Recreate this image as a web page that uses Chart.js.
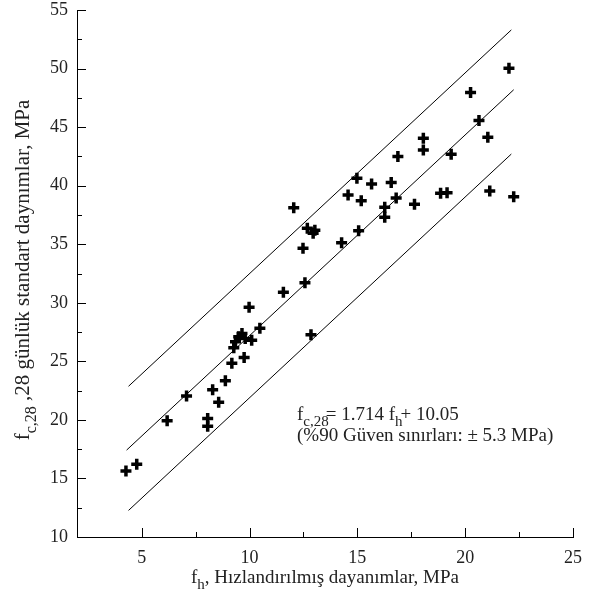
<!DOCTYPE html>
<html>
<head>
<meta charset="utf-8">
<script src="https://cdn.jsdelivr.net/npm/chart.js@4/dist/chart.umd.min.js"></script>
<style>
  body { margin: 0; background: #fff; }
</style>
</head>
<body>
<canvas id="cnv" width="592" height="598"></canvas>
<script>
// measured points: accelerated strength fh vs 28-day standard strength fc28 (MPa)
const fh = [4.27, 4.77, 6.18, 7.08, 8.06, 8.06, 8.29, 8.57, 8.88, 9.18,
  9.27, 9.35, 9.5, 9.65, 9.8, 9.75, 9.98, 10.1, 10.48, 11.57,
  12.05, 12.48, 12.57, 12.68, 13.03, 12.95, 12.85, 14.27, 14.57, 14.98,
  15.06, 15.18, 15.66, 16.27, 16.27, 16.57, 16.8, 16.88, 17.65, 18.06,
  18.06, 18.86, 19.16, 19.35, 20.25, 20.64, 21.05, 21.14, 22.03, 22.25]
const fc28 = [15.64, 16.21, 19.93, 22.04, 20.12, 19.46, 22.57, 21.5, 23.35, 24.84,
  26.17, 26.67, 27.1, 27.38, 26.96, 25.33, 29.62, 26.8, 27.82, 30.89,
  38.12, 34.65, 31.71, 36.36, 36.2, 35.93, 27.27, 35.13, 39.2, 40.63,
  36.15, 38.72, 40.15, 38.15, 37.3, 40.26, 38.95, 42.48, 38.41, 44.05,
  43.05, 39.35, 39.4, 42.68, 47.95, 45.56, 44.14, 39.55, 50.03, 39.06]

// regression line and 90% limits, end points
const fitX = [4.3, 22.25]
const fitY = [17.42, 48.19]
const upperX = [4.39, 22.14]
const upperY = [22.87, 53.3]
const lowerX = [4.39, 22.14]
const lowerY = [12.27, 42.7]

const xTicks = [5, 10, 15, 20, 25]
const yTicks = [10, 15, 20, 25, 30, 35, 40, 45, 50, 55]

const serif = "'Liberation Serif', 'DejaVu Serif', serif"

function pts(xs, ys) {
  return xs.map((x, i) => ({ x: x, y: ys[i] }))
}

function lineSet(xs, ys) {
  return {
    data: pts(xs, ys),
    showLine: true,
    borderColor: '#000',
    borderWidth: 1,
    pointRadius: 0,
    fill: false
  }
}

// text with subscripts: parts = [[text, isSub, extraAdvance], ...]
function richWidth(ctx, parts, size) {
  let w = 0
  parts.forEach(p => {
    ctx.font = (p[1] ? Math.round(size * 0.78) : size) + 'px ' + serif
    w += ctx.measureText(p[0]).width + (p[2] || 0)
  })
  return w
}
function drawRich(ctx, parts, x, y, size) {
  parts.forEach(p => {
    ctx.font = (p[1] ? Math.round(size * 0.78) : size) + 'px ' + serif
    ctx.fillText(p[0], x, p[1] ? y + size * 0.33 : y)
    x += ctx.measureText(p[0]).width + (p[2] || 0)
  })
}

const extras = {
  id: 'extras',
  afterDraw(chart) {
    const ctx = chart.ctx
    const xs = chart.scales.x, ys = chart.scales.y
    const area = chart.chartArea
    ctx.save()
    // inward tick marks, long ones every 5, short ones between
    ctx.strokeStyle = '#000'
    ctx.lineWidth = 1
    ctx.beginPath()
    ys.ticks.forEach(t => {
      if (Math.abs(t.value / 2.5 - Math.round(t.value / 2.5)) > 1e-6) return
      let len = yTicks.includes(t.value) ? 9 : 5
      let py = Math.round(ys.getPixelForValue(t.value)) + 0.5
      ctx.moveTo(area.left, py)
      ctx.lineTo(area.left + len, py)
    })
    xs.ticks.forEach(t => {
      if (Math.abs(t.value / 2.5 - Math.round(t.value / 2.5)) > 1e-6) return
      let len = xTicks.includes(t.value) ? 9 : 5
      let px = Math.round(xs.getPixelForValue(t.value)) + 0.5
      ctx.moveTo(px, area.bottom)
      ctx.lineTo(px, area.bottom - len)
    })
    ctx.stroke()

    ctx.fillStyle = '#222'
    ctx.textAlign = 'left'
    ctx.textBaseline = 'alphabetic'

    // x title
    let xt = [['f', false], ['h', true], [', Hızlandırılmış dayanımlar, MPa', false]]
    let w = richWidth(ctx, xt, 19)
    drawRich(ctx, xt, (area.left + area.right) / 2 - w / 2, 583, 19)

    // y title, rotated
    let yt = [['f', false], ['c,28', true], [' ,28 günlük standart daynımlar, MPa', false]]
    w = richWidth(ctx, yt, 21)
    ctx.save()
    ctx.translate(29, 270)
    ctx.rotate(-Math.PI / 2)
    drawRich(ctx, yt, -w / 2, 0, 21)
    ctx.restore()

    // equation
    drawRich(ctx, [['f', false], ['c,28', true, -3], ['= 1.714 f', false], ['h', true, -2], ['+ 10.05', false]], 297, 420, 19)
    drawRich(ctx, [['(%90 Güven sınırları: ± 5.3 MPa)', false]], 297, 441, 19)
    ctx.restore()
  }
}

new Chart(document.getElementById('cnv'), {
  type: 'scatter',
  data: {
    datasets: [
      {
        data: pts(fh, fc28),
        pointStyle: 'cross',
        pointRadius: 5.5,
        pointBorderWidth: 3.5,
        borderColor: '#000',
        backgroundColor: '#000'
      },
      lineSet(fitX, fitY),
      lineSet(upperX, upperY),
      lineSet(lowerX, lowerY)
    ]
  },
  options: {
    responsive: false,
    animation: false,
    layout: { padding: { top: 0, right: 10, left: 0, bottom: 0 } },
    plugins: { legend: { display: false }, tooltip: { enabled: false } },
    scales: {
      x: {
        type: 'linear',
        min: 2,
        max: 25,
        afterFit: s => { s.height = 61 },
        grid: { display: false, drawTicks: false },
        border: { display: true, color: '#000', width: 1 },
        ticks: {
          stepSize: 2.5,
          autoSkip: false,
          maxRotation: 0,
          padding: 10,
          color: '#222',
          font: { family: serif, size: 18 },
          callback: v => xTicks.includes(v) ? v : ''
        }
      },
      y: {
        type: 'linear',
        min: 10,
        max: 55,
        afterFit: s => { s.width = 77; s.paddingTop = 10; s.paddingBottom = 0 },
        grid: { display: false, drawTicks: false },
        border: { display: true, color: '#000', width: 1 },
        ticks: {
          stepSize: 2.5,
          autoSkip: false,
          padding: 9,
          color: '#222',
          font: { family: serif, size: 18 },
          callback: v => yTicks.includes(v) ? v : ''
        }
      }
    }
  },
  plugins: [extras]
})
</script>
</body>
</html>
